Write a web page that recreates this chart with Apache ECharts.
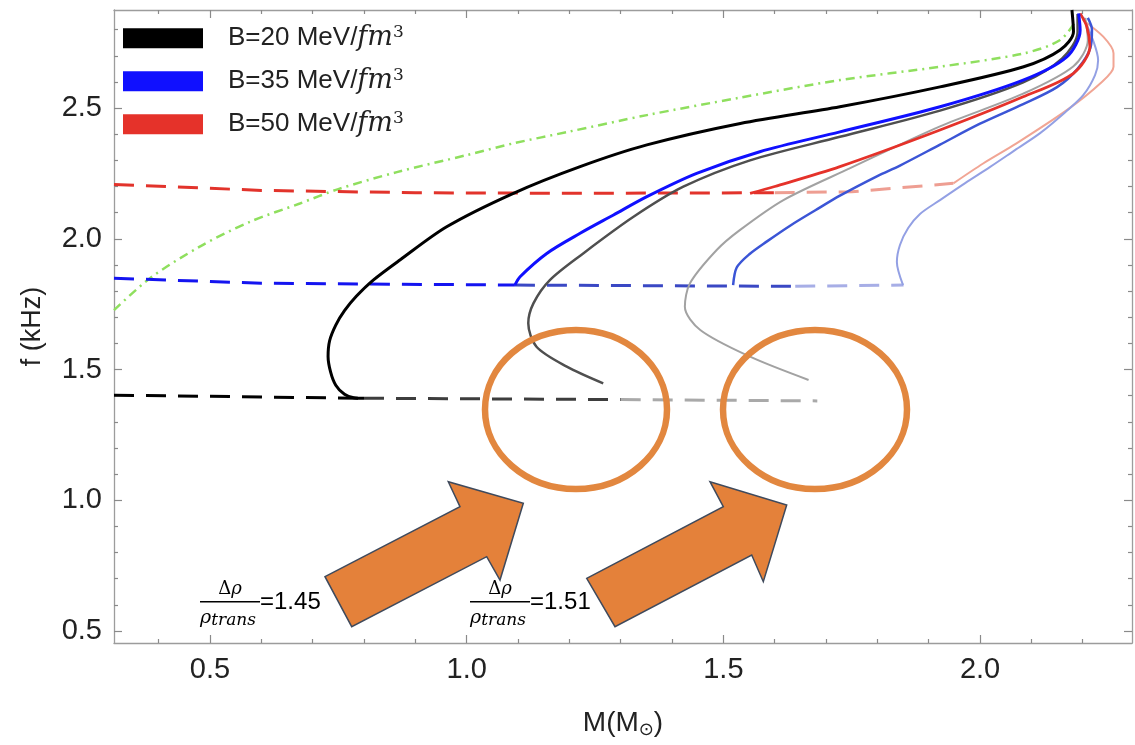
<!DOCTYPE html>
<html><head><meta charset="utf-8">
<script src="https://cdn.jsdelivr.net/npm/echarts@6/dist/echarts.min.js"></script>
<style>html,body{margin:0;padding:0;background:#fff}#c{width:1135px;height:745px}</style>
</head><body><div id="c"></div><script>
// ---------- data (M in solar masses, f in kHz) ----------
const GREEN_M = [0.313, 0.383, 0.48, 0.578, 0.675, 0.75, 0.864, 1.0, 1.091, 1.2, 1.351, 1.533, 1.727, 1.922, 2.085, 2.156, 2.188];
const GREEN_F = [1.727, 1.849, 1.97, 2.065, 2.135, 2.19, 2.255, 2.32, 2.365, 2.41, 2.473, 2.54, 2.607, 2.658, 2.709, 2.76, 2.837];

// B = 20 family
const B20_HAD_M = [0.313, 0.80];               const B20_HAD_F = [1.402, 1.39];
const B20a_HAD_M = [0.80, 1.30];               const B20a_HAD_F = [1.39, 1.385];
const B20b_HAD_M = [1.30, 1.683];              const B20b_HAD_F = [1.385, 1.38];
const B20_HYB_M = [0.80, 0.78, 0.762, 0.745, 0.735, 0.730, 0.733, 0.745, 0.762, 0.785, 0.818, 0.870, 0.961, 1.091, 1.221, 1.351, 1.533, 1.727, 1.922, 2.085, 2.156, 2.182, 2.179];
const B20_HYB_F = [1.39, 1.392, 1.405, 1.44, 1.49, 1.55, 1.61, 1.67, 1.725, 1.78, 1.842, 1.919, 2.046, 2.174, 2.276, 2.359, 2.441, 2.505, 2.581, 2.658, 2.722, 2.792, 2.875];
const B20a_HYB_M = [1.266, 1.195, 1.136, 1.12, 1.13, 1.162, 1.227, 1.325, 1.422, 1.552, 1.727, 1.922, 2.084, 2.16, 2.19, 2.19];
const B20a_HYB_F = [1.447, 1.511, 1.587, 1.677, 1.753, 1.842, 1.944, 2.084, 2.199, 2.30, 2.39, 2.49, 2.598, 2.69, 2.79, 2.86];
const B20b_HYB_M = [1.666, 1.552, 1.455, 1.425, 1.435, 1.487, 1.532, 1.617, 1.747, 1.922, 2.084, 2.182, 2.21, 2.205];
const B20b_HYB_F = [1.46, 1.549, 1.651, 1.74, 1.83, 1.957, 2.033, 2.148, 2.27, 2.43, 2.555, 2.66, 2.76, 2.845];

// B = 35 family
const B35_HAD_M = [0.313, 0.6, 1.094];         const B35_HAD_F = [1.849, 1.83, 1.823];
const B35a_HAD_M = [1.094, 1.64];              const B35a_HAD_F = [1.823, 1.818];
const B35b_HAD_M = [1.64, 1.851];              const B35b_HAD_F = [1.818, 1.823];
const B35_HYB_M = [1.094, 1.104, 1.156, 1.221, 1.286, 1.351, 1.448, 1.571, 1.727, 1.922, 2.084, 2.169, 2.195, 2.192];
const B35_HYB_F = [1.823, 1.855, 1.944, 2.021, 2.091, 2.161, 2.25, 2.333, 2.409, 2.505, 2.607, 2.696, 2.798, 2.862];
const B35a_HYB_M = [1.519, 1.526, 1.55, 1.585, 1.63, 1.68, 1.727, 1.8, 1.844, 1.922, 2.0, 2.084, 2.15, 2.19, 2.215, 2.218, 2.21];
const B35a_HYB_F = [1.823, 1.89, 1.94, 1.99, 2.05, 2.11, 2.165, 2.24, 2.28, 2.36, 2.44, 2.515, 2.58, 2.65, 2.73, 2.80, 2.845];
const B35b_HYB_M = [1.850, 1.838, 1.844, 1.860, 1.883, 1.922, 1.971, 2.019, 2.068, 2.117, 2.166, 2.201, 2.224, 2.230, 2.220, 2.201];
const B35b_HYB_F = [1.823, 1.911, 1.976, 2.041, 2.095, 2.148, 2.213, 2.274, 2.339, 2.404, 2.484, 2.549, 2.626, 2.683, 2.760, 2.848];

// B = 50 family
const B50_HAD_M = [0.313, 0.6, 0.9, 1.2, 1.6];  const B50_HAD_F = [2.208, 2.185, 2.176, 2.174, 2.176];
const B50b_HAD_M = [1.6, 1.75, 1.948];          const B50b_HAD_F = [2.176, 2.18, 2.212];
const B50_HYB_M = [1.552, 1.6, 1.727, 1.922, 2.084, 2.182, 2.214, 2.208, 2.195];
const B50_HYB_F = [2.174, 2.20, 2.276, 2.416, 2.543, 2.633, 2.735, 2.811, 2.862];
const B50b_HYB_M = [1.948, 2.006, 2.071, 2.169, 2.234, 2.26, 2.26, 2.24, 2.2];
const B50b_HYB_F = [2.212, 2.288, 2.365, 2.492, 2.594, 2.658, 2.71, 2.773, 2.837];

const LEGEND_NAMES = ['B=20', 'B=35', 'B=50'];
const X_MAJOR = [0.5, 1.0, 1.5, 2.0];
const X_MINOR = [0.4, 0.6, 0.7, 0.8, 0.9, 1.1, 1.2, 1.3, 1.4, 1.6, 1.7, 1.8, 1.9, 2.1, 2.2];
const Y_MAJOR = [0.5, 1.0, 1.5, 2.0, 2.5];
const Y_MINOR = [0.6, 0.7, 0.8, 0.9, 1.1, 1.2, 1.3, 1.4, 1.6, 1.7, 1.8, 1.9, 2.1, 2.2, 2.3, 2.4, 2.6, 2.7, 2.8];
const FRACTION_VALUES = ['=1.45', '=1.51'];

// ---------- chart ----------
const X_MIN = 0.313, X_MAX = 2.296, Y_MIN = 0.454, Y_MAX = 2.875;
const pts = (ms, fs) => ms.map((m, i) => [m, fs[i]]);
const DASH = [20, 12];

function line(name, m, f, color, width, type, smooth, z) {
  return {
    type: 'line', name: name, data: pts(m, f), symbol: 'none', smooth: smooth ? 0.3 : false,
    color: color, z: z || 2, silent: true,
    lineStyle: { color: color, width: width, type: type, cap: 'butt' }
  };
}

const series = [
  line('green', GREEN_M, GREEN_F, '#8fdf5e', 2.5, [9, 5, 2, 5], true, 2),
  line('had20b', B20b_HAD_M, B20b_HAD_F, '#a9a9a9', 3, DASH, false),
  line('had20a', B20a_HAD_M, B20a_HAD_F, '#3d3d3d', 3, DASH, false),
  line('had20', B20_HAD_M, B20_HAD_F, '#000000', 3, DASH, false),
  line('had35b', B35b_HAD_M, B35b_HAD_F, '#a7aee6', 3, DASH, false),
  line('had35a', B35a_HAD_M, B35a_HAD_F, '#3a48c4', 3, DASH, false),
  line('had35', B35_HAD_M, B35_HAD_F, '#1414f0', 3, DASH, false),
  line('had50b', B50b_HAD_M, B50b_HAD_F, '#ee9e92', 3, DASH, false),
  line('had50', B50_HAD_M, B50_HAD_F, '#e2332b', 3, DASH, false),
  line('hyb50b', B50b_HYB_M, B50b_HYB_F, '#f1a594', 2, 'solid', true),
  line('hyb35b', B35b_HYB_M, B35b_HYB_F, '#93a0e4', 2, 'solid', true),
  line('hyb20b', B20b_HYB_M, B20b_HYB_F, '#a2a2a2', 2, 'solid', true),
  line(LEGEND_NAMES[2], B50_HYB_M, B50_HYB_F, '#e5322a', 2.8, 'solid', true, 3),
  line('hyb35a', B35a_HYB_M, B35a_HYB_F, '#3b55d6', 2.5, 'solid', true),
  line('hyb20a', B20a_HYB_M, B20a_HYB_F, '#4f4f4f', 2.5, 'solid', true),
  line(LEGEND_NAMES[1], B35_HYB_M, B35_HYB_F, '#1010ff', 3, 'solid', true, 3),
  line(LEGEND_NAMES[0], B20_HYB_M, B20_HYB_F, '#000000', 3, 'solid', true, 3)
];

const FRAME = '#9c9c9c', TICK = '#8a8a8a', TXT = '#222';
function axis(dim, pos, ticks, len, withLabel, withLine, extra) {
  const a = {
    type: 'value', min: dim === 'x' ? X_MIN : Y_MIN, max: dim === 'x' ? X_MAX : Y_MAX,
    position: pos, splitLine: { show: false },
    axisLine: { show: withLine, lineStyle: { color: FRAME, width: 1.3 } },
    axisTick: { show: true, inside: true, length: len, customValues: ticks, lineStyle: { color: TICK, width: 1.2 } },
    axisLabel: withLabel ? { show: true, customValues: ticks, formatter: v => v.toFixed(1), fontSize: 29,
      fontFamily: 'Liberation Sans', color: TXT, margin: 12 } : { show: false }
  };
  return Object.assign(a, extra || {});
}

const chart = echarts.init(document.getElementById('c'), null, { renderer: 'canvas' });
chart.setOption({
  animation: false,
  backgroundColor: '#ffffff',
  grid: { left: 114, top: 10, right: 3, bottom: 102 },
  xAxis: [
    axis('x', 'bottom', X_MAJOR, 8, true, true, {
      name: '{a|M(M}{b|⊙}{a|)}', nameLocation: 'middle', nameGap: 64,
      nameTextStyle: { rich: {
        a: { fontSize: 28, fontFamily: 'Liberation Sans', color: TXT },
        b: { fontSize: 18, fontFamily: 'DejaVu Sans', color: TXT, padding: [14, 0, 0, 0] } } }
    }),
    axis('x', 'bottom', X_MINOR, 4, false, false),
    axis('x', 'top', X_MAJOR, 8, false, true),
    axis('x', 'top', X_MINOR, 4, false, false)
  ],
  yAxis: [
    axis('y', 'left', Y_MAJOR, 8, true, true, {
      name: 'f (kHz)', nameLocation: 'middle', nameGap: 68, nameRotate: 90,
      nameTextStyle: { fontSize: 27, fontFamily: 'Liberation Sans', color: TXT }
    }),
    axis('y', 'left', Y_MINOR, 4, false, false),
    axis('y', 'right', Y_MAJOR, 8, false, true),
    axis('y', 'right', Y_MINOR, 4, false, false)
  ],
  legend: {
    orient: 'vertical', left: 123, top: 24.3, padding: 0, itemWidth: 80, itemHeight: 20, itemGap: 15.5,
    icon: 'rect', selectedMode: false, data: LEGEND_NAMES,
    formatter: n => '{a|' + n + ' MeV/}{i|fm}{s|3}',
    textStyle: { rich: {
      a: { fontSize: 26, lineHeight: 28, fontFamily: 'Liberation Sans', color: TXT, padding: [0, 0, 0, 20] },
      i: { fontSize: 27, lineHeight: 28, fontFamily: 'DejaVu Serif', fontStyle: 'italic', color: TXT },
      s: { fontSize: 17, lineHeight: 17, verticalAlign: 'top', fontFamily: 'DejaVu Serif', color: TXT } } }
  },
  series: series,
  graphic: [
    { type: 'ellipse', z: 100, shape: { cx: 576, cy: 409.5, rx: 91, ry: 79.5 }, style: { fill: 'none', stroke: '#e2873f', lineWidth: 6.5 } },
    { type: 'ellipse', z: 100, shape: { cx: 815, cy: 409.5, rx: 92, ry: 79.5 }, style: { fill: 'none', stroke: '#e2873f', lineWidth: 6.5 } },
    { type: 'polygon', z: 100, shape: { points: [[325, 576.7], [460, 506.7], [448.3, 481.7], [523.3, 503.3], [500, 580], [486.7, 556.7], [351.7, 626.7]] },
      style: { fill: '#e4813a', stroke: '#3f4a5c', lineWidth: 1.5 } },
    { type: 'polygon', z: 100, shape: { points: [[586.7, 578.3], [723.3, 506.7], [710, 481.7], [786.7, 505], [763.3, 581.7], [751.7, 555], [615, 626.7]] },
      style: { fill: '#e4813a', stroke: '#3f4a5c', lineWidth: 1.5 } }
  ].concat([200, 470].flatMap((x0, k) => [
    { type: 'text', z: 101, x: x0 + 30, y: 589, style: { text: '{u|Δ}{i|ρ}', textAlign: 'center', textVerticalAlign: 'middle',
      rich: { u: { fontSize: 18, fontFamily: 'DejaVu Serif', fill: '#000' }, i: { fontSize: 18, fontFamily: 'DejaVu Serif', fontStyle: 'italic', fill: '#000' } } } },
    { type: 'line', z: 101, shape: { x1: x0, y1: 601.7, x2: x0 + 60, y2: 601.7 }, style: { stroke: '#000', lineWidth: 1.4 } },
    { type: 'text', z: 101, x: x0, y: 618, style: { text: '{i|ρ}{s|trans}', textAlign: 'left', textVerticalAlign: 'middle',
      rich: { i: { fontSize: 19, fontFamily: 'DejaVu Serif', fontStyle: 'italic', fill: '#000' },
              s: { fontSize: 17, fontFamily: 'DejaVu Serif', fontStyle: 'italic', fill: '#000', padding: [5, 0, 0, 0] } } } },
    { type: 'text', z: 101, x: x0 + 60, y: 602, style: { text: FRACTION_VALUES[k], textAlign: 'left', textVerticalAlign: 'middle',
      fontSize: 24, fontFamily: 'Liberation Sans', fill: '#000' } }
  ]))
});
</script></body></html>
